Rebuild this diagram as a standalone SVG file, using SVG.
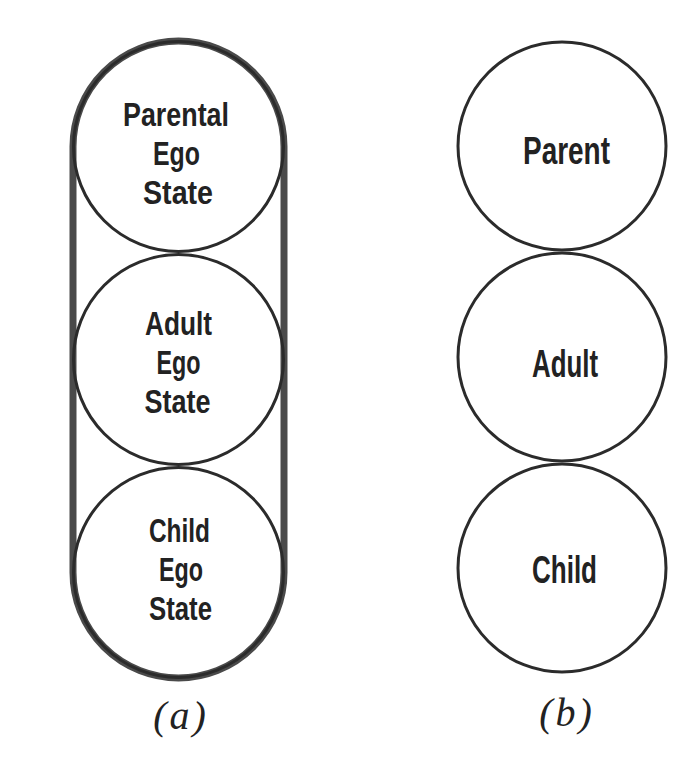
<svg xmlns="http://www.w3.org/2000/svg" width="696" height="762" viewBox="0 0 696 762">
  <style>
    .bg { fill: #ffffff; }
    .frame { fill: none; stroke: #4a4a4a; stroke-width: 7; }
    .state { fill: none; stroke: #2b2b2b; stroke-width: 3; }
    .lbl { font-family: "Liberation Sans", Arial, sans-serif; font-weight: bold; font-size: 34px; fill: #222222; text-anchor: middle; }
    .big { font-size: 38px; }
    .cap { font-family: "Liberation Serif", "Times New Roman", serif; font-style: italic; font-size: 40px; fill: #222222; text-anchor: middle; letter-spacing: 3px; }
  </style>
  <rect class="bg" x="0" y="0" width="696" height="762"/>

  <g id="diagram-a">
    <g id="a-frame">
      <rect class="frame" x="73" y="41" width="211" height="637" rx="105.5" ry="105.5"/>
    </g>
    <g id="a-parental">
      <circle class="state" cx="178.5" cy="146.5" r="105"/>
      <text class="lbl" x="176" y="126" textLength="106" lengthAdjust="spacingAndGlyphs">Parental</text>
      <text class="lbl" x="176.5" y="165" textLength="47" lengthAdjust="spacingAndGlyphs">Ego</text>
      <text class="lbl" x="178" y="204" textLength="70" lengthAdjust="spacingAndGlyphs">State</text>
    </g>
    <g id="a-adult">
      <circle class="state" cx="178.5" cy="359.5" r="105"/>
      <text class="lbl" x="178.5" y="335" textLength="67" lengthAdjust="spacingAndGlyphs">Adult</text>
      <text class="lbl" x="178.5" y="374" textLength="44" lengthAdjust="spacingAndGlyphs">Ego</text>
      <text class="lbl" x="177.5" y="413" textLength="66" lengthAdjust="spacingAndGlyphs">State</text>
    </g>
    <g id="a-child">
      <circle class="state" cx="178.5" cy="572.5" r="105"/>
      <text class="lbl" x="179.5" y="542" textLength="61" lengthAdjust="spacingAndGlyphs">Child</text>
      <text class="lbl" x="181" y="581" textLength="44" lengthAdjust="spacingAndGlyphs">Ego</text>
      <text class="lbl" x="180.5" y="620" textLength="63" lengthAdjust="spacingAndGlyphs">State</text>
    </g>
    <text class="cap" x="181" y="729">(a)</text>
  </g>

  <g id="diagram-b">
    <g id="b-parent">
      <circle class="state" cx="562" cy="146" r="104"/>
      <text class="lbl big" x="566.5" y="164" textLength="87" lengthAdjust="spacingAndGlyphs">Parent</text>
    </g>
    <g id="b-adult">
      <circle class="state" cx="562" cy="357" r="104"/>
      <text class="lbl big" x="565" y="377" textLength="66" lengthAdjust="spacingAndGlyphs">Adult</text>
    </g>
    <g id="b-child">
      <circle class="state" cx="562" cy="568" r="104"/>
      <text class="lbl big" x="564.5" y="583" textLength="65" lengthAdjust="spacingAndGlyphs">Child</text>
    </g>
    <text class="cap" x="567" y="726">(b)</text>
  </g>
</svg>
